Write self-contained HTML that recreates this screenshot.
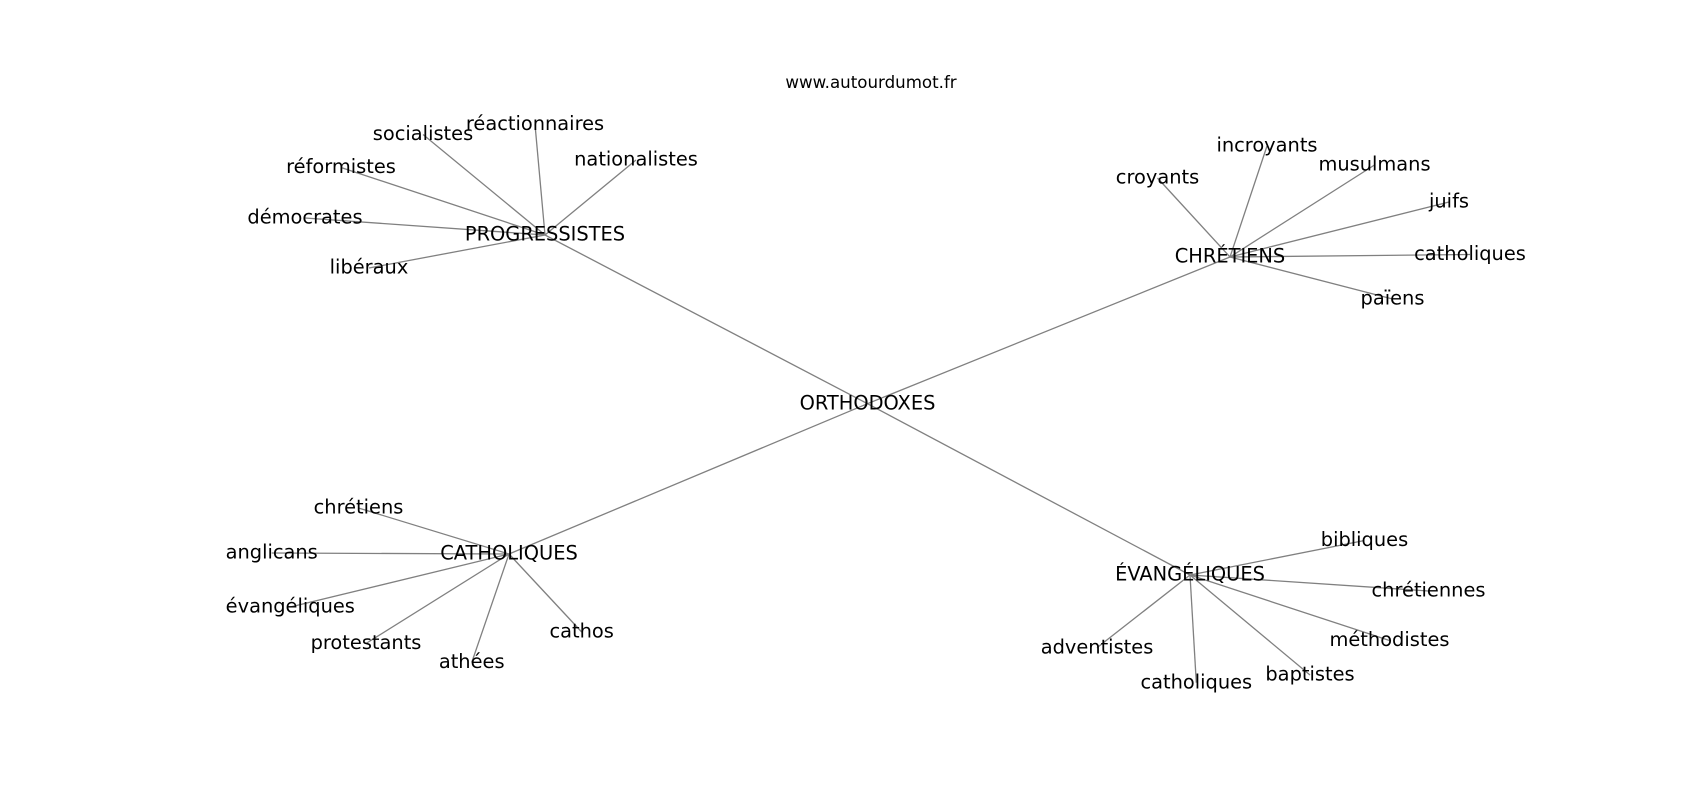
<!DOCTYPE html>
<html>
<head>
<meta charset="utf-8">
<style>
html,body{margin:0;padding:0;background:#fff;}
svg{display:block;}
text{font-family:"DejaVu Sans","Liberation Sans",sans-serif;fill:#000;}
.n{font-size:19.4px;text-anchor:middle;}
.t{font-size:16.67px;text-anchor:middle;}
line{stroke:#808080;stroke-width:1.3;}
</style>
</head>
<body>
<svg width="1700" height="800" viewBox="0 0 1700 800" xmlns="http://www.w3.org/2000/svg">
<rect width="1700" height="800" fill="#fff"/>
<g>
<!-- hub edges -->
<line x1="867.5" y1="403.7" x2="545" y2="235"/>
<line x1="867.5" y1="403.7" x2="1230" y2="257"/>
<line x1="867.5" y1="403.7" x2="509" y2="554"/>
<line x1="867.5" y1="403.7" x2="1190" y2="575"/>
<!-- PROGRESSISTES -->
<line x1="545" y1="235" x2="423" y2="134.5"/>
<line x1="545" y1="235" x2="535" y2="124.5"/>
<line x1="545" y1="235" x2="636" y2="160"/>
<line x1="545" y1="235" x2="341" y2="167.5"/>
<line x1="545" y1="235" x2="305" y2="218"/>
<line x1="545" y1="235" x2="369" y2="268"/>
<!-- CHRETIENS -->
<line x1="1230" y1="257" x2="1157.5" y2="178"/>
<line x1="1230" y1="257" x2="1267" y2="146"/>
<line x1="1230" y1="257" x2="1374.5" y2="165"/>
<line x1="1230" y1="257" x2="1449" y2="202"/>
<line x1="1230" y1="257" x2="1470" y2="254.5"/>
<line x1="1230" y1="257" x2="1392.5" y2="299"/>
<!-- CATHOLIQUES -->
<line x1="509" y1="554" x2="358.5" y2="508"/>
<line x1="509" y1="554" x2="271.7" y2="553"/>
<line x1="509" y1="554" x2="290.3" y2="607"/>
<line x1="509" y1="554" x2="366" y2="643.5"/>
<line x1="509" y1="554" x2="471.7" y2="662.5"/>
<line x1="509" y1="554" x2="581.7" y2="632"/>
<!-- EVANGELIQUES -->
<line x1="1190" y1="575" x2="1364.5" y2="540.5"/>
<line x1="1190" y1="575" x2="1428.5" y2="591"/>
<line x1="1190" y1="575" x2="1389.5" y2="640.5"/>
<line x1="1190" y1="575" x2="1310" y2="675"/>
<line x1="1190" y1="575" x2="1196.3" y2="682.7"/>
<line x1="1190" y1="575" x2="1097" y2="647.7"/>
</g>
<text class="t" x="871" y="88">www.autourdumot.fr</text>
<g class="lbl">
<text class="n" x="867.5" y="409.3">ORTHODOXES</text>
<text class="n" x="545" y="240.6">PROGRESSISTES</text>
<text class="n" x="423" y="140.1">socialistes</text>
<text class="n" x="535" y="130.1">réactionnaires</text>
<text class="n" x="636" y="165.6">nationalistes</text>
<text class="n" x="341" y="173.1">réformistes</text>
<text class="n" x="305" y="223.6">démocrates</text>
<text class="n" x="369" y="273.6">libéraux</text>

<text class="n" x="1230" y="262.6">CHRÉTIENS</text>
<text class="n" x="1157.5" y="183.6">croyants</text>
<text class="n" x="1267" y="151.6">incroyants</text>
<text class="n" x="1374.5" y="170.6">musulmans</text>
<text class="n" x="1449" y="207.6">juifs</text>
<text class="n" x="1470" y="260.1">catholiques</text>
<text class="n" x="1392.5" y="304.6">païens</text>

<text class="n" x="509" y="559.6">CATHOLIQUES</text>
<text class="n" x="358.5" y="513.6">chrétiens</text>
<text class="n" x="271.7" y="558.6">anglicans</text>
<text class="n" x="290.3" y="612.6">évangéliques</text>
<text class="n" x="366" y="649.1">protestants</text>
<text class="n" x="471.7" y="668.1">athées</text>
<text class="n" x="581.7" y="637.6">cathos</text>

<text class="n" x="1190" y="580.6">ÉVANGÉLIQUES</text>
<text class="n" x="1364.5" y="546.1">bibliques</text>
<text class="n" x="1428.5" y="596.6">chrétiennes</text>
<text class="n" x="1389.5" y="646.1">méthodistes</text>
<text class="n" x="1310" y="680.6">baptistes</text>
<text class="n" x="1196.3" y="688.3">catholiques</text>
<text class="n" x="1097" y="653.3">adventistes</text>
</g>
</svg>
</body>
</html>
